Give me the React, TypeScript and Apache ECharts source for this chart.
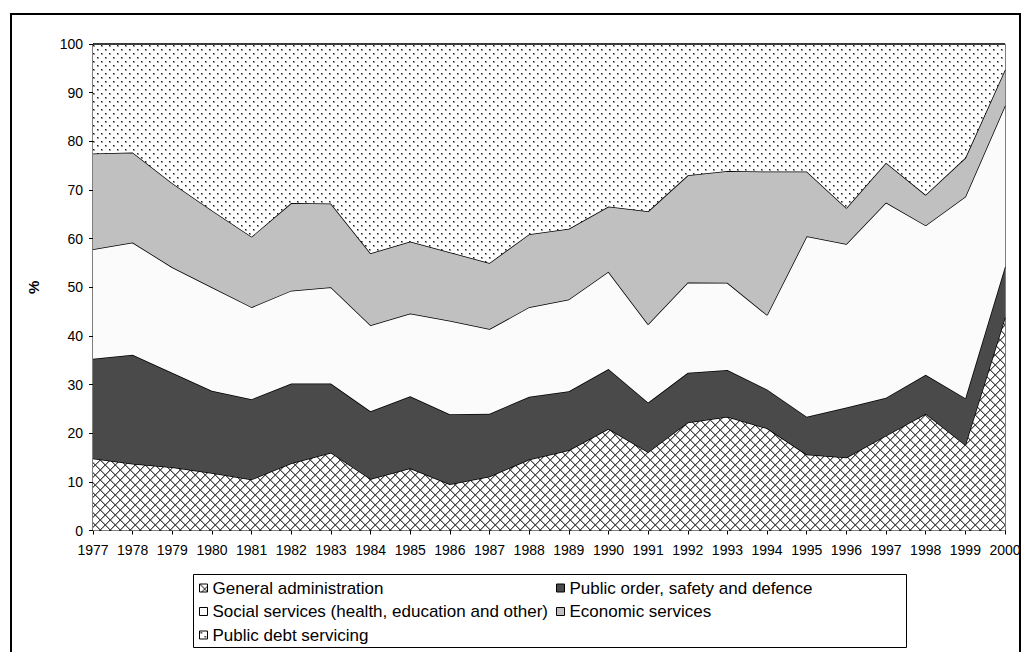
import { useEffect, useRef } from 'react';
import * as echarts from 'echarts';

// Shares of expenditure by function, %
const years = [
  '1977', '1978', '1979', '1980', '1981', '1982', '1983', '1984', '1985', '1986', '1987', '1988',
  '1989', '1990', '1991', '1992', '1993', '1994', '1995', '1996', '1997', '1998', '1999', '2000',
];
const generalAdmin = [
  14.8, 13.7, 13.0, 11.8, 10.5, 13.8, 16.0, 10.6, 12.8, 9.5, 11.1, 14.6,
  16.5, 20.9, 16.1, 22.2, 23.4, 21.0, 15.6, 15.0, 19.5, 24.0, 17.6, 43.8,
];
const publicOrder = [
  20.5, 22.4, 19.4, 16.9, 16.5, 16.4, 14.2, 13.9, 14.8, 14.4, 12.9, 12.9,
  12.1, 12.3, 10.2, 10.2, 9.6, 8.0, 7.8, 10.3, 7.8, 8.0, 9.6, 10.4,
];
const socialServices = [
  22.5, 23.1, 21.7, 21.3, 18.9, 19.1, 19.8, 17.7, 17.0, 19.2, 17.4, 18.4,
  18.9, 20.0, 16.1, 18.6, 17.9, 15.3, 37.1, 33.6, 40.1, 30.7, 41.4, 33.1,
];
const economicServices = [
  19.7, 18.5, 17.3, 15.8, 14.5, 18.0, 17.2, 14.8, 14.8, 14.1, 13.6, 15.0,
  14.5, 13.4, 23.2, 22.0, 23.0, 29.5, 13.3, 7.4, 8.2, 6.3, 8.0, 7.4,
];
const debtServicing = [
  22.5, 22.3, 28.6, 34.2, 39.6, 32.7, 32.8, 43.0, 40.6, 42.8, 45.0, 39.1,
  38.0, 33.4, 34.4, 27.0, 26.1, 26.2, 26.2, 33.7, 24.4, 31.0, 23.4, 5.3,
];
const seriesNames = [
  'General administration',
  'Public order, safety and defence',
  'Social services (health, education and other)',
  'Economic services',
  'Public debt servicing',
];

const FONT = '"Liberation Sans", Arial, sans-serif';

function makePattern(w: number, h: number, draw: (ctx: CanvasRenderingContext2D) => void) {
  const c = document.createElement('canvas');
  c.width = w;
  c.height = h;
  const ctx = c.getContext('2d')!;
  ctx.fillStyle = '#ffffff';
  ctx.fillRect(0, 0, w, h);
  draw(ctx);
  return { image: c.toDataURL(), repeat: 'repeat', imageWidth: w, imageHeight: h } as any;
}

export default function App() {
  const ref = useRef<HTMLDivElement>(null);

  useEffect(() => {
    if (!ref.current) return;
    const chart = echarts.init(ref.current, null, { renderer: 'svg' });

    // diagonal cross-hatch, ~10px diamonds
    const crossHatch = makePattern(10, 10, (ctx) => {
      for (let i = 0; i < 10; i++) {
        ctx.fillStyle = '#a8a8a8';
        ctx.fillRect((i + 1) % 10, i, 1, 1);
        ctx.fillRect((10 - i) % 10, i, 1, 1);
        ctx.fillStyle = '#4a4a4a';
        ctx.fillRect(i, i, 1, 1);
        ctx.fillRect(9 - i, i, 1, 1);
      }
    });
    // sparse staggered dots
    const dots = makePattern(8, 8, (ctx) => {
      ctx.fillStyle = '#9a9a9a';
      ctx.fillRect(1, 1, 2, 2);
      ctx.fillRect(5, 5, 2, 2);
      ctx.fillStyle = '#1a1a1a';
      ctx.fillRect(1, 1, 1, 1);
      ctx.fillRect(5, 5, 1, 1);
    });

    const fills = [crossHatch, '#4a4a4a', '#fbfbfb', '#c0c0c0', dots];
    const values = [generalAdmin, publicOrder, socialServices, economicServices, debtServicing];

    const legendBase = {
      orient: 'vertical',
      top: 578,
      padding: 0,
      itemGap: 3.5,
      itemWidth: 8,
      itemHeight: 8,
      icon: 'rect',
      selectedMode: false,
      textStyle: { fontFamily: FONT, fontSize: 17, color: '#000', lineHeight: 20 },
      itemStyle: { borderColor: '#000', borderWidth: 1 },
    };
    const legendItem = (i: number) => ({
      name: seriesNames[i],
      itemStyle: { color: fills[i], borderColor: '#000', borderWidth: 1 },
    });

    chart.setOption({
      animation: false,
      backgroundColor: '#fff',
      textStyle: { fontFamily: FONT },
      grid: {
        left: 93,
        right: 24,
        top: 44,
        bottom: 121.5,
        show: true,
        borderColor: '#000',
        borderWidth: 1,
        backgroundColor: 'transparent',
      },
      legend: [
        { ...legendBase, left: 199, data: [legendItem(0), legendItem(2), legendItem(4)] },
        { ...legendBase, left: 556, data: [legendItem(1), legendItem(3)] },
      ],
      graphic: [
        {
          type: 'rect',
          shape: { x: 11, y: 14, width: 1009, height: 660 },
          style: { fill: 'none', stroke: '#000', lineWidth: 2 },
          silent: true,
        },
        {
          type: 'rect',
          shape: { x: 193.5, y: 574.5, width: 713, height: 73 },
          style: { fill: 'none', stroke: '#000', lineWidth: 1 },
          silent: true,
        },
      ],
      xAxis: {
        type: 'category',
        data: years,
        boundaryGap: false,
        axisLine: { lineStyle: { color: '#000', width: 1 } },
        axisTick: { show: true, length: 4, interval: 0, lineStyle: { color: '#000' } },
        axisLabel: { interval: 0, color: '#000', fontSize: 14, margin: 12, fontFamily: FONT },
        splitLine: { show: false },
      },
      yAxis: {
        type: 'value',
        min: 0,
        max: 100,
        interval: 10,
        name: '%',
        nameLocation: 'middle',
        nameRotate: 90,
        nameGap: 52,
        nameTextStyle: { color: '#000', fontSize: 15, fontWeight: 'bold', fontFamily: FONT },
        axisLine: { show: true, lineStyle: { color: '#000', width: 1 } },
        axisTick: { show: true, length: 4, lineStyle: { color: '#000' } },
        axisLabel: { color: '#000', fontSize: 14, margin: 10, fontFamily: FONT },
        splitLine: { show: false },
      },
      series: seriesNames.map((name, i) => ({
        name,
        type: 'line',
        stack: 'total',
        data: values[i],
        showSymbol: false,
        symbol: 'none',
        lineStyle: { color: '#000', width: 1.5 },
        itemStyle: { color: fills[i] },
        areaStyle: { color: fills[i], opacity: 1 },
        z: 2 + i,
      })),
    });

    return () => chart.dispose();
  }, []);

  return (
    <div
      ref={ref}
      style={{ position: 'fixed', left: 0, top: 0, width: 1029, height: 652, background: '#fff' }}
    />
  );
}
